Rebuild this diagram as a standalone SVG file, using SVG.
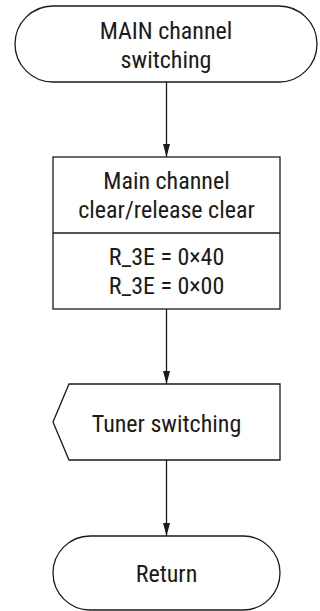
<svg xmlns="http://www.w3.org/2000/svg" width="320" height="611" viewBox="0 0 320 611">
<style>
.s{fill:#fff;stroke:#1a1a1a;stroke-width:1.3}
.t{font-family:"Liberation Sans Narrow","Roboto Condensed","Liberation Sans",sans-serif;font-size:24px;fill:#1a1a1a;text-anchor:middle}
.c{stroke:#1a1a1a;stroke-width:1.3;fill:none}
</style>
<defs>
<marker id="ad" viewBox="0 0 7 13" refX="3.5" refY="13" markerWidth="7" markerHeight="13" markerUnits="userSpaceOnUse" orient="0">
<path d="M0,0 L7,0 L3.5,13 z" fill="#1a1a1a"/>
</marker>
</defs>
<g id="connectors">
<line class="c" x1="166.5" y1="82" x2="166.5" y2="157" marker-end="url(#ad)"/>
<line class="c" x1="166.5" y1="309" x2="166.5" y2="384" marker-end="url(#ad)"/>
<line class="c" x1="166.5" y1="460" x2="166.5" y2="536" marker-end="url(#ad)"/>
</g>
<g id="start">
<rect class="s" x="15" y="6" width="302" height="76" rx="38" ry="38"/>
<text class="t" x="166" y="39">MAIN channel</text>
<text class="t" x="166" y="68">switching</text>
</g>
<g id="process">
<rect class="s" x="53" y="157" width="227" height="152"/>
<line class="c" x1="53" y1="233" x2="280" y2="233"/>
<text class="t" x="166.5" y="189">Main channel</text>
<text class="t" x="166.5" y="218">clear/release clear</text>
<text class="t" x="166.5" y="265">R_3E = 0×40</text>
<text class="t" x="166.5" y="294">R_3E = 0×00</text>
</g>
<g id="tuner">
<path class="s" d="M69,384 L280,384 L280,460 L69,460 L53,422 Z"/>
<text class="t" x="166.5" y="432">Tuner switching</text>
</g>
<g id="return">
<rect class="s" x="53" y="536" width="227" height="74" rx="37" ry="37"/>
<text class="t" x="166.5" y="582">Return</text>
</g>
</svg>
